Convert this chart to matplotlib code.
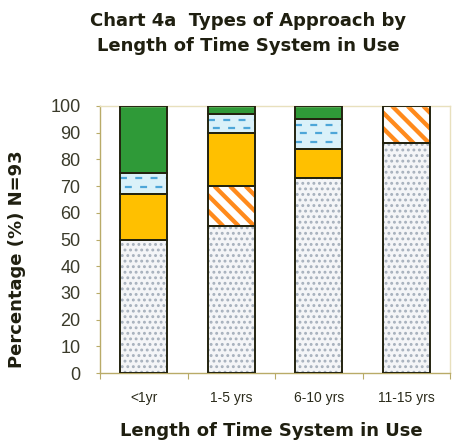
import matplotlib
matplotlib.use("Agg")
import matplotlib.pyplot as plt
import numpy as np
from matplotlib.collections import LineCollection
from matplotlib.lines import Line2D
from matplotlib.transforms import IdentityTransform

# ---- data (percent of respondents, stacked bottom to top) ----
categories = ["<1yr", "1-5 yrs", "6-10 yrs", "11-15 yrs"]
dotted = [50, 55, 73, 86]
striped = [0, 15, 0, 14]
amber = [17, 20, 11, 0]
pale_blue = [8, 7, 11, 0]
green = [25, 3, 5, 0]
y_ticks = [0, 10, 20, 30, 40, 50, 60, 70, 80, 90, 100]

plt.rcParams["lines.scale_dashes"] = False
plt.rcParams["hatch.linewidth"] = 1.3

fig = plt.figure(figsize=(4.54, 4.46), dpi=100)
fig.patch.set_facecolor("white")
ax = fig.add_axes([100 / 454, 73 / 446, 350 / 454, 267 / 446])
ax.set_xlim(-0.5, 3.5)
ax.set_ylim(0, 100)

x = np.arange(len(categories))
width = 0.54
outline_col = "#23230f"
bottom = np.zeros(len(categories))


def stripe_fill(patch):
    bb = patch.get_window_extent()
    h = bb.height
    period = 15.6
    segs = []
    c = bb.x0 - h - period
    while c < bb.x1 + period:
        segs.append([(c, bb.y1), (c + h, bb.y0)])
        c += period
    lc = LineCollection(segs, colors="#ff8a1c", linewidths=3.1,
                        transform=IdentityTransform(), zorder=2.5)
    ax.add_collection(lc)
    lc.set_clip_path(patch)


def dash_fill(patch):
    bb = patch.get_window_extent()
    y = bb.y1 - 5.5
    row = 0
    while y > bb.y0 + 2.5:
        ln = Line2D([bb.x0, bb.x1], [y, y], color="#4da6d8", linewidth=1.6,
                    linestyle=(0 if row % 2 == 0 else 7.5, (5.0, 6.0)),
                    transform=IdentityTransform(), zorder=2.5)
        ax.add_line(ln)
        ln.set_clip_path(patch)
        y -= 8.5
        row += 1


layers = [
    (dotted, "dots"),
    (striped, "stripes"),
    (amber, "amber"),
    (pale_blue, "dashes"),
    (green, "green"),
]

for values, style in layers:
    vals = np.asarray(values, dtype=float)
    m = vals > 0
    xs, hs, bs = x[m], vals[m], bottom[m]
    if style == "dots":
        ax.bar(xs, hs, width, bottom=bs, color="#f4f5f7", edgecolor="#a6b0bc",
               hatch="...", linewidth=0, zorder=2)
    elif style == "stripes":
        bars = ax.bar(xs, hs, width, bottom=bs, color="white", linewidth=0, zorder=2)
        for p in bars.patches:
            stripe_fill(p)
    elif style == "amber":
        ax.bar(xs, hs, width, bottom=bs, color="#ffc000", linewidth=0, zorder=2)
    elif style == "dashes":
        bars = ax.bar(xs, hs, width, bottom=bs, color="#daf1f9", linewidth=0, zorder=2)
        for p in bars.patches:
            dash_fill(p)
    elif style == "green":
        ax.bar(xs, hs, width, bottom=bs, color="#2f9a38", linewidth=0, zorder=2)
    ax.bar(xs, hs, width, bottom=bs, fill=False, edgecolor=outline_col,
           linewidth=1.4, zorder=3)
    bottom += vals

# ---- axes styling ----
axis_col = "#b9ab68"
for side in ("left", "bottom"):
    ax.spines[side].set_color(axis_col)
    ax.spines[side].set_linewidth(1.0)
for side in ("top", "right"):
    ax.spines[side].set_color("#e8e0bd")
    ax.spines[side].set_linewidth(1.0)

ax.set_yticks(y_ticks)
ax.set_yticklabels([str(v) for v in y_ticks], fontsize=13, color="#3a3a2a",
                   fontfamily="Liberation Sans")
ax.tick_params(axis="y", direction="out", length=3, width=0.8, color=axis_col, pad=11)

ax.set_xticks(x)
ax.set_xticklabels(categories, fontsize=10, color="#2a2a1a", fontfamily="Liberation Sans")
ax.tick_params(axis="x", which="major", length=0, pad=13)
ax.set_xticks(np.arange(-0.5, 3.6, 1.0), minor=True)
ax.tick_params(axis="x", which="minor", direction="out", length=4, width=0.8, color=axis_col)

fig.text(0.546, 0.925, "Chart 4a  Types of Approach by\nLength of Time System in Use",
         ha="center", va="center", fontsize=13, fontweight="bold",
         fontfamily="DejaVu Sans", color="#1f1f10", linespacing=1.5)
fig.text(0.597, 0.034, "Length of Time System in Use", ha="center", va="center",
         fontsize=13, fontweight="bold", fontfamily="DejaVu Sans", color="#1f1f10")
fig.text(17 / 454, 1 - 259 / 446, "Percentage (%) N=93", ha="center", va="center",
         rotation=90, fontsize=13, fontweight="bold", fontfamily="DejaVu Sans",
         color="#1f1f10")

fig.savefig("out.png", dpi=100, facecolor="white")
